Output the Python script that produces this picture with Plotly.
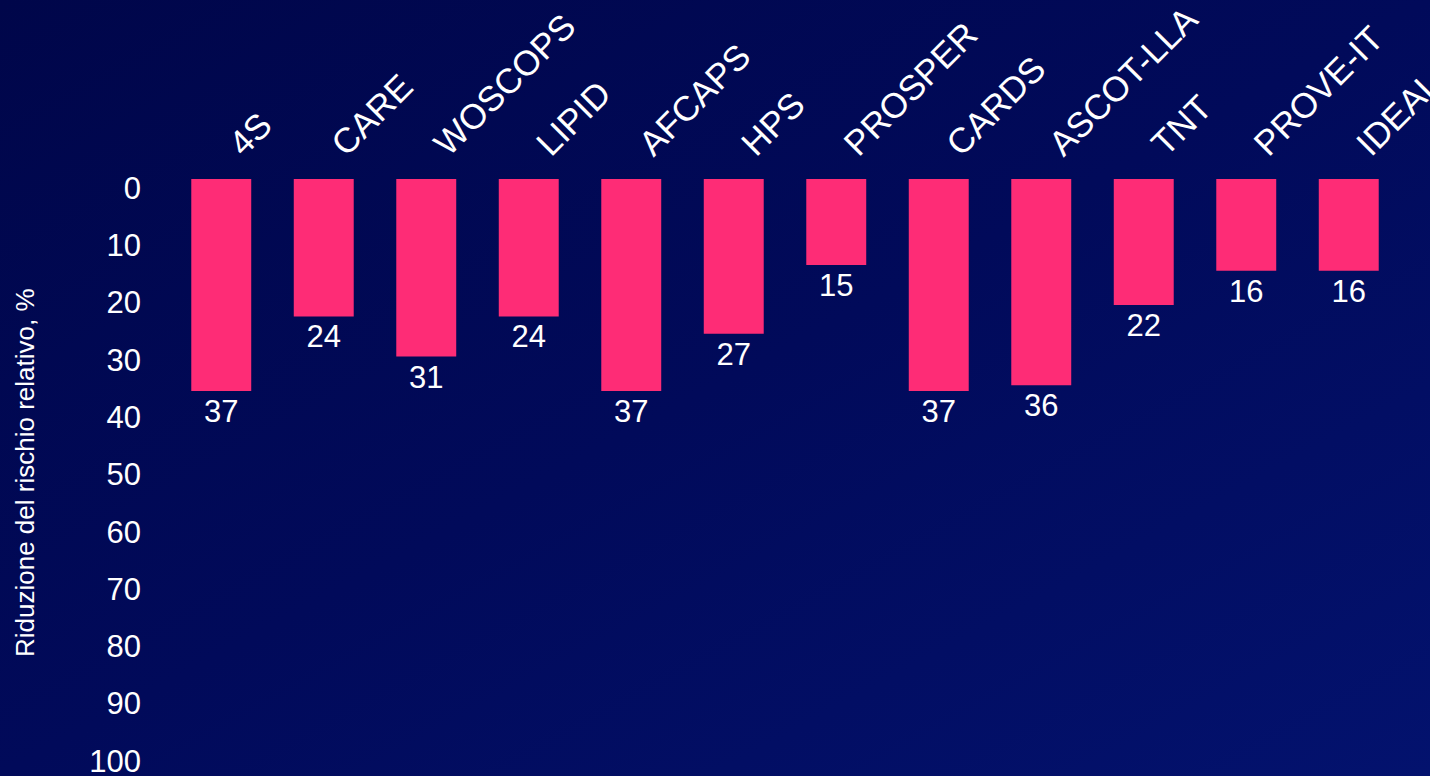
import base64
import plotly.graph_objects as go

# Trials and relative risk reduction (%)
trials = ["4S", "CARE", "WOSCOPS", "LIPID", "AFCAPS", "HPS", "PROSPER",
          "CARDS", "ASCOT-LLA", "TNT", "PROVE-IT", "IDEAL"]
risk_reduction = [37, 24, 31, 24, 37, 27, 15, 37, 36, 22, 16, 16]
y_ticks = [0, 10, 20, 30, 40, 50, 60, 70, 80, 90, 100]
y_title = "Riduzione del rischio relativo, %"

W, H = 1430, 776
M_L, M_R, M_T, M_B = 170, 30, 179, 23
PW, PH = W - M_L - M_R, H - M_T - M_B

FONT = "Liberation Sans, Arial, sans-serif"
BAR_COLOR = "#FE2C76"

# Navy diagonal gradient used as the slide background
svg = (
    f'<svg xmlns="http://www.w3.org/2000/svg" width="{W}" height="{H}">'
    '<defs><linearGradient id="g" x1="0" y1="0" x2="1" y2="1">'
    '<stop offset="0" stop-color="#00064A"/>'
    '<stop offset="0.5" stop-color="#010A5A"/>'
    '<stop offset="1" stop-color="#03126E"/>'
    '</linearGradient></defs>'
    f'<rect width="{W}" height="{H}" fill="url(#g)"/></svg>'
)
bg_uri = "data:image/svg+xml;base64," + base64.b64encode(svg.encode()).decode()

fig = go.Figure(
    go.Bar(
        x=trials,
        y=risk_reduction,
        marker=dict(color=BAR_COLOR, line=dict(width=0)),
        text=[str(v) for v in risk_reduction],
        textposition="outside",
        textfont=dict(family=FONT, size=31, color="white"),
        cliponaxis=False,
        hoverinfo="x+y",
    )
)

fig.update_layout(
    width=W,
    height=H,
    margin=dict(l=M_L, r=M_R, t=M_T, b=M_B, autoexpand=False),
    paper_bgcolor="#010A5A",
    plot_bgcolor="rgba(0,0,0,0)",
    bargap=0.415,
    showlegend=False,
    font=dict(family=FONT, color="white"),
    images=[dict(
        source=bg_uri,
        xref="paper", yref="paper",
        x=-M_L / PW, y=1 + M_T / PH,
        sizex=W / PW, sizey=H / PH,
        xanchor="left", yanchor="top",
        sizing="stretch", layer="below",
    )],
    # vertical axis title, placed near the left edge of the slide
    annotations=[dict(
        text=y_title,
        xref="paper", yref="paper",
        x=(25 - M_L) / PW, y=(H - M_B - 473) / PH,
        xanchor="center", yanchor="middle",
        textangle=-90,
        showarrow=False,
        font=dict(family=FONT, size=26, color="white"),
    )],
    xaxis=dict(
        side="top",
        tickangle=-45,
        tickfont=dict(family=FONT, size=35, color="white"),
        showgrid=False,
        showline=False,
        ticks="",
        ticklabelstandoff=8,
        ticklabelshift=10,
        ticklabeloverflow="allow",
        fixedrange=True,
    ),
    yaxis=dict(
        range=[100.2, 0],
        tickvals=y_ticks,
        ticktext=[str(v) for v in y_ticks],
        tickfont=dict(family=FONT, size=31, color="white"),
        ticklabelshift=-9,
        ticklabelstandoff=28,
        ticklabeloverflow="allow",
        showgrid=False,
        zeroline=False,
        showline=False,
        ticks="",
        fixedrange=True,
    ),
)

fig.write_html("out.html")
